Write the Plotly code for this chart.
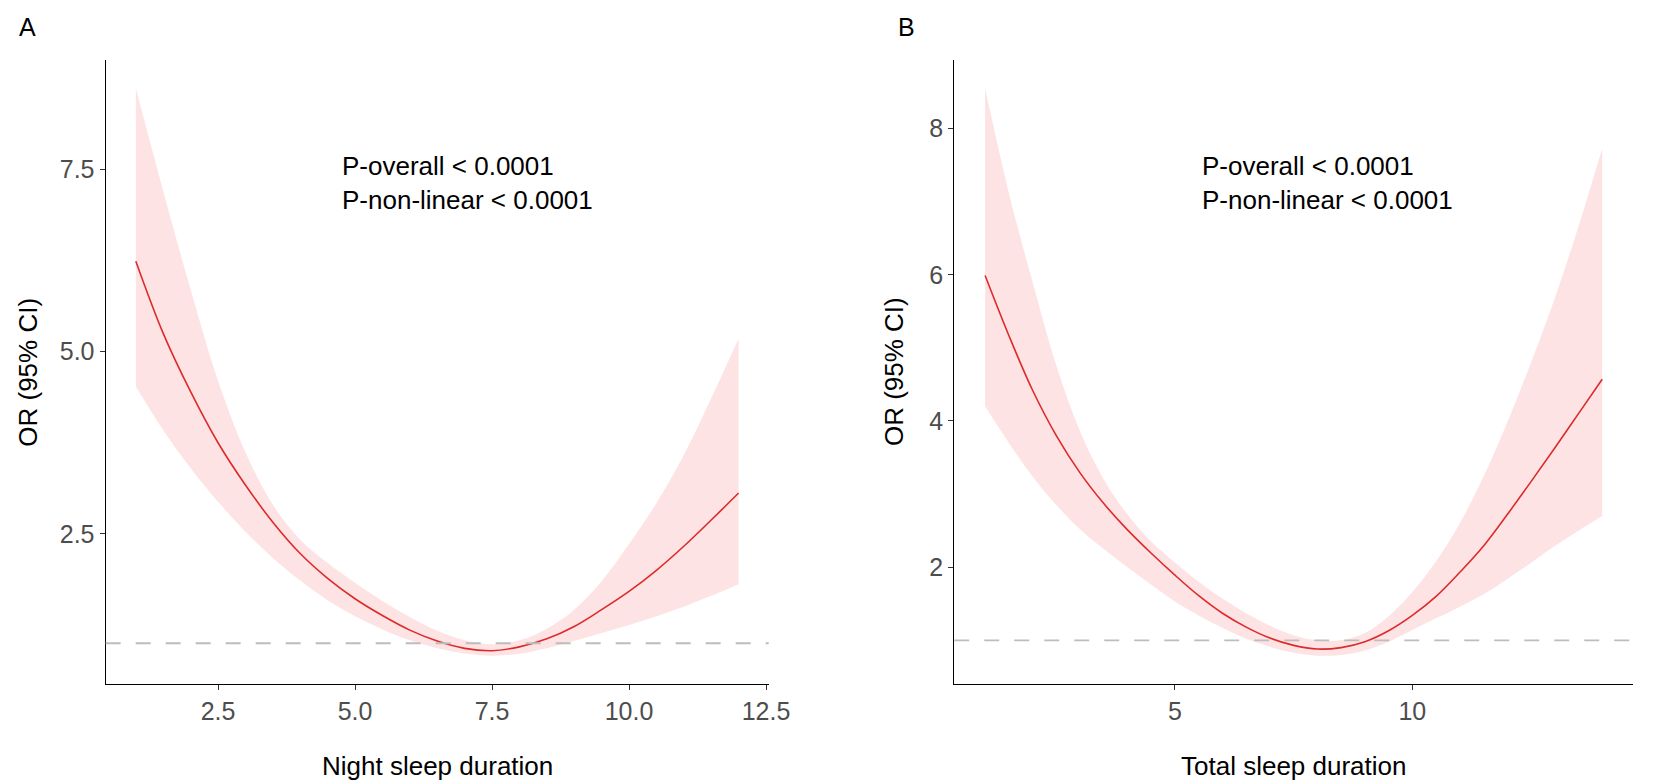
import plotly.graph_objects as go

W, H = 1654, 780
FONT = "Liberation Sans, Arial, sans-serif"

# Panel A - night sleep duration
night_x = [1, 1.5, 2, 2.5, 3, 3.5, 4, 4.5, 5, 5.5, 6, 6.5, 7, 7.5, 8, 8.5,
           9, 9.5, 10, 10.5, 11, 11.5, 12]
night_or = [6.24, 5.25, 4.45, 3.75, 3.17, 2.66, 2.23, 1.89, 1.61, 1.38, 1.18, 1.03,
            0.93, 0.898, 0.95, 1.06, 1.23, 1.46, 1.71, 2.00, 2.33, 2.69, 3.06]
night_upper = [8.61, 7.20, 5.85, 4.60, 3.62, 2.90, 2.42, 2.10, 1.83, 1.58, 1.36, 1.17,
               1.04, 0.985, 1.04, 1.20, 1.46, 1.85, 2.36, 2.92, 3.58, 4.36, 5.18]
night_lower = [4.52, 3.92, 3.40, 2.94, 2.53, 2.17, 1.86, 1.59, 1.37, 1.19, 1.04, 0.93,
               0.86, 0.83, 0.855, 0.93, 1.03, 1.14, 1.25, 1.37, 1.50, 1.65, 1.81]

# Panel B - total sleep duration
total_x = [1, 1.5, 2, 2.5, 3, 3.5, 4, 4.5, 5, 5.5, 6, 6.5, 7, 7.5, 8, 8.5, 9,
           9.5, 10, 10.5, 11, 11.5, 12, 12.5, 13, 13.5, 14]
total_or = [5.99, 5.17, 4.42, 3.80, 3.29, 2.87, 2.51, 2.19, 1.89, 1.61, 1.37, 1.18,
            1.03, 0.93, 0.88, 0.90, 0.98, 1.13, 1.34, 1.60, 1.93, 2.29, 2.72, 3.17,
            3.63, 4.10, 4.57]
total_upper = [8.55, 7.12, 5.90, 4.76, 3.86, 3.20, 2.72, 2.35, 2.06, 1.80, 1.57, 1.37,
               1.20, 1.07, 1.00, 1.00, 1.10, 1.33, 1.66, 2.08, 2.60, 3.24, 3.98, 4.80,
               5.68, 6.66, 7.73]
total_lower = [4.20, 3.70, 3.24, 2.85, 2.52, 2.25, 2.00, 1.76, 1.53, 1.34, 1.17, 1.02,
               0.91, 0.83, 0.79, 0.80, 0.86, 0.98, 1.14, 1.30, 1.46, 1.63, 1.84, 2.06,
               2.29, 2.50, 2.70]

p_text = "P-overall < 0.0001<br>P-non-linear < 0.0001"
y_title = "OR (95% CI)"

LINE_RED = "#DD2A2A"
BAND_PINK = "#FDE3E3"


def px(x):
    return x / W


def py(y):
    return 1 - y / H


def padded(lo, hi, frac=0.05):
    span = hi - lo
    return [lo - frac * span, hi + frac * span]


def add_panel(fig, xs, fit, upper, lower, n):
    xa = "x" if n == 1 else f"x{n}"
    ya = "y" if n == 1 else f"y{n}"
    fig.add_trace(go.Scatter(x=xs, y=upper, mode="lines", line=dict(width=0, shape="spline"),
                             xaxis=xa, yaxis=ya, showlegend=False, hoverinfo="skip"))
    fig.add_trace(go.Scatter(x=xs, y=lower, mode="lines", line=dict(width=0, shape="spline"),
                             fill="tonexty", fillcolor=BAND_PINK,
                             xaxis=xa, yaxis=ya, showlegend=False, hoverinfo="skip"))
    fig.add_trace(go.Scatter(x=xs, y=fit, mode="lines",
                             line=dict(color=LINE_RED, width=1.6, shape="spline"),
                             xaxis=xa, yaxis=ya, showlegend=False))
    # reference line at OR = 1
    fig.add_shape(type="line", xref=f"{xa} domain", yref=ya, x0=0, x1=1, y0=1, y1=1,
                  line=dict(color="#BDBDBD", width=1.8, dash="15px,15px"), layer="above")


fig = go.Figure()
add_panel(fig, night_x, night_or, night_upper, night_lower, 1)
add_panel(fig, total_x, total_or, total_upper, total_lower, 2)

axis_common = dict(showline=True, linecolor="black", linewidth=1.3, ticks="outside",
                   ticklen=5, tickwidth=1.2, tickcolor="#333333", showgrid=False,
                   zeroline=False, tickfont=dict(family=FONT, size=25, color="#4D4D4D"))

y_top, y_bot = 52, 676
fig.update_layout(
    width=W, height=H,
    margin=dict(l=0, r=0, t=0, b=0),
    paper_bgcolor="white", plot_bgcolor="white",
    font=dict(family=FONT, color="black"),
    xaxis=dict(axis_common, domain=[px(99), px(771)], anchor="y",
               range=padded(min(night_x), max(night_x)), tick0=0, dtick=2.5, tickformat=".1f"),
    yaxis=dict(axis_common, domain=[py(y_bot), py(y_top)], anchor="x",
               range=padded(min(night_lower), max(night_upper)), tick0=0, dtick=2.5,
               tickformat=".1f"),
    xaxis2=dict(axis_common, domain=[px(959), px(1647)], anchor="y2",
                range=padded(min(total_x), max(total_x)), tick0=0, dtick=5),
    yaxis2=dict(axis_common, domain=[py(y_bot), py(y_top)], anchor="x2",
                range=padded(min(total_lower), max(total_upper)), tick0=0, dtick=2),
)

annos = [
    dict(text="A", x=px(20), y=py(19), size=25),
    dict(text="B", x=px(911), y=py(19), size=25),
    dict(text="Night sleep duration", x=px(435), y=py(758), size=26),
    dict(text="Total sleep duration", x=px(1303), y=py(758), size=26),
    dict(text=y_title, x=px(20), y=py(364), size=26, angle=-90),
    dict(text=y_title, x=px(898), y=py(364), size=26, angle=-90),
]
for a in annos:
    fig.add_annotation(text=a["text"], x=a["x"], y=a["y"], xref="paper", yref="paper",
                       showarrow=False, xanchor="center", yanchor="middle",
                       textangle=a.get("angle", 0),
                       font=dict(family=FONT, size=a["size"], color="black"))

# p-value notes, left aligned inside each panel
fig.add_annotation(text=p_text, x=px(336), y=py(175), xref="paper", yref="paper",
                   showarrow=False, xanchor="left", yanchor="middle", align="left",
                   font=dict(family=FONT, size=26, color="black"))
fig.add_annotation(text=p_text, x=px(1208), y=py(175), xref="paper", yref="paper",
                   showarrow=False, xanchor="left", yanchor="middle", align="left",
                   font=dict(family=FONT, size=26, color="black"))

fig.write_html("out.html")
